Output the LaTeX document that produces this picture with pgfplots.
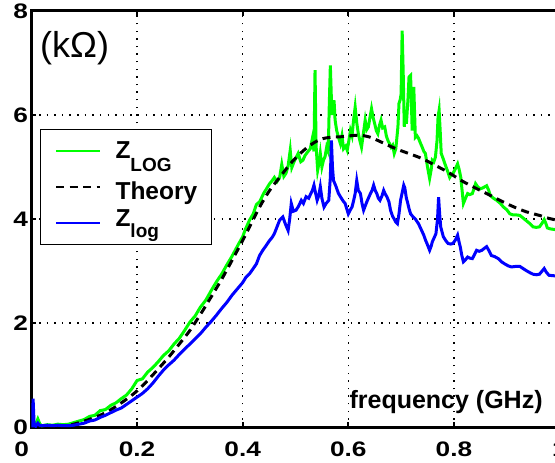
\documentclass[border=0pt]{standalone}
\usepackage{fontspec}
\setmainfont{Liberation Sans}
\newfontfamily\tickfont{Liberation Sans}[FakeStretch=1.25]
\usepackage{pgfplots}
\pgfplotsset{compat=1.18}
\definecolor{zgreen}{RGB}{0,255,0}
\definecolor{zblue}{RGB}{0,0,255}

\pgfplotstableread{
x y
0.004 0.02
0.008 0.06
0.012 0.16
0.016 0.06
0.02 0.03
0.03 0.05
0.04 0.04
0.05 0.06
0.06 0.05
0.07 0.06
0.08 0.09
0.09 0.12
0.10 0.15
0.11 0.21
0.12 0.23
0.13 0.32
0.14 0.34
0.15 0.42
0.16 0.47
0.17 0.55
0.18 0.62
0.19 0.74
0.20 0.90
0.21 0.93
0.22 1.06
0.23 1.15
0.24 1.26
0.25 1.38
0.26 1.47
0.27 1.60
0.28 1.71
0.29 1.86
0.30 2.02
0.31 2.14
0.32 2.31
0.33 2.44
0.34 2.62
0.35 2.79
0.36 2.94
0.37 3.12
0.38 3.29
0.39 3.48
0.40 3.66
0.405 3.80
0.413 3.98
0.42 4.10
0.426 4.28
0.432 4.33
0.44 4.50
0.445 4.58
0.451 4.68
0.456 4.74
0.46 4.80
0.465 4.72
0.47 4.80
0.474 5.05
0.478 4.82
0.482 4.88
0.486 5.02
0.490 5.32
0.493 4.99
0.498 5.12
0.505 5.26
0.510 5.10
0.514 5.13
0.518 5.22
0.523 5.29
0.528 5.35
0.532 5.55
0.535 5.30
0.537 6.86
0.539 5.40
0.542 4.94
0.545 5.10
0.547 5.26
0.550 5.00
0.553 5.13
0.556 5.20
0.559 5.38
0.562 5.30
0.564 6.20
0.566 6.95
0.568 6.30
0.570 6.00
0.573 6.28
0.575 5.90
0.578 5.70
0.582 5.55
0.585 5.45
0.588 5.60
0.591 5.35
0.595 5.40
0.598 5.32
0.601 5.50
0.604 5.70
0.607 5.60
0.610 5.90
0.613 6.15
0.616 5.85
0.619 5.64
0.622 5.50
0.625 5.38
0.628 5.60
0.632 5.90
0.635 5.72
0.638 5.77
0.641 5.95
0.644 6.12
0.647 5.95
0.650 5.83
0.653 5.70
0.656 5.64
0.659 5.80
0.662 5.90
0.665 5.75
0.669 5.77
0.672 5.60
0.675 5.51
0.678 5.45
0.681 5.38
0.684 5.42
0.687 5.26
0.690 5.35
0.694 5.77
0.696 6.22
0.698 6.28
0.700 6.40
0.702 7.62
0.704 6.80
0.706 5.77
0.708 6.10
0.710 5.83
0.713 6.30
0.715 6.73
0.718 6.76
0.721 5.70
0.724 6.54
0.727 5.57
0.730 5.60
0.733 5.55
0.737 5.45
0.740 5.38
0.743 5.30
0.746 5.26
0.750 5.00
0.754 4.78
0.757 4.95
0.759 5.13
0.762 5.10
0.765 5.19
0.768 5.50
0.770 5.96
0.772 6.09
0.774 5.70
0.776 5.26
0.780 5.15
0.783 5.06
0.787 4.95
0.792 4.80
0.795 4.85
0.798 4.87
0.802 4.95
0.807 5.06
0.810 4.95
0.813 4.80
0.816 4.50
0.818 4.30
0.822 4.40
0.826 4.49
0.830 4.47
0.835 4.49
0.838 4.58
0.841 4.68
0.845 4.62
0.850 4.58
0.855 4.60
0.862 4.64
0.866 4.55
0.869 4.45
0.875 4.40
0.881 4.36
0.888 4.30
0.894 4.23
0.900 4.18
0.906 4.10
0.912 4.08
0.918 4.08
0.925 4.07
0.931 4.02
0.937 3.97
0.943 3.92
0.950 3.85
0.956 3.84
0.962 3.85
0.967 3.92
0.971 3.99
0.974 3.92
0.977 3.83
0.983 3.81
0.990 3.80
1.0 3.78
}\zLOG

\pgfplotstableread{
x y
0.002 0.0
0.003 0.55
0.005 0.05
0.008 0.02
0.012 0.08
0.016 0.03
0.02 0.03
0.03 0.04
0.04 0.03
0.05 0.04
0.06 0.03
0.07 0.03
0.08 0.04
0.09 0.06
0.10 0.08
0.11 0.12
0.12 0.14
0.13 0.19
0.14 0.23
0.15 0.28
0.16 0.33
0.17 0.37
0.18 0.44
0.19 0.51
0.20 0.58
0.21 0.65
0.22 0.74
0.23 0.85
0.24 0.98
0.25 1.10
0.26 1.20
0.27 1.29
0.28 1.40
0.29 1.50
0.30 1.60
0.31 1.70
0.32 1.80
0.33 1.92
0.34 2.03
0.35 2.15
0.36 2.28
0.37 2.40
0.38 2.54
0.39 2.66
0.40 2.78
0.406 2.88
0.413 2.95
0.42 3.05
0.426 3.14
0.432 3.30
0.438 3.40
0.445 3.50
0.451 3.59
0.456 3.65
0.46 3.72
0.465 3.85
0.47 3.98
0.476 4.04
0.481 3.90
0.486 3.78
0.489 4.00
0.492 4.30
0.496 4.15
0.501 4.17
0.506 4.25
0.511 4.36
0.515 4.30
0.520 4.43
0.525 4.40
0.529 4.49
0.532 4.55
0.535 4.65
0.538 4.50
0.541 4.36
0.544 4.45
0.547 4.62
0.550 4.40
0.554 4.23
0.558 4.30
0.563 4.36
0.566 4.80
0.568 5.51
0.570 5.00
0.572 4.74
0.577 4.62
0.581 4.50
0.585 4.43
0.590 4.35
0.594 4.30
0.600 4.10
0.604 4.18
0.607 4.23
0.610 4.35
0.613 4.49
0.616 4.74
0.619 4.55
0.623 4.49
0.626 4.30
0.629 4.17
0.632 4.25
0.635 4.33
0.638 4.40
0.642 4.49
0.645 4.55
0.648 4.65
0.651 4.55
0.654 4.49
0.657 4.40
0.660 4.36
0.664 4.45
0.667 4.55
0.670 4.48
0.673 4.43
0.677 4.33
0.680 4.17
0.684 4.05
0.687 4.00
0.690 3.94
0.693 3.91
0.696 4.10
0.699 4.36
0.703 4.55
0.705 4.65
0.707 4.60
0.710 4.40
0.712 4.33
0.715 4.20
0.718 4.10
0.722 4.05
0.727 4.00
0.733 3.91
0.738 3.80
0.743 3.69
0.746 3.60
0.749 3.53
0.754 3.40
0.757 3.48
0.759 3.56
0.763 3.65
0.766 3.72
0.769 4.00
0.771 4.42
0.773 4.10
0.775 3.85
0.780 3.66
0.785 3.58
0.789 3.53
0.794 3.52
0.798 3.53
0.803 3.60
0.807 3.69
0.810 3.55
0.812 3.47
0.815 3.30
0.818 3.18
0.822 3.22
0.826 3.27
0.830 3.25
0.835 3.24
0.839 3.32
0.843 3.40
0.848 3.38
0.853 3.40
0.858 3.44
0.862 3.47
0.866 3.40
0.871 3.30
0.877 3.28
0.884 3.24
0.890 3.18
0.896 3.14
0.903 3.10
0.909 3.08
0.917 3.09
0.925 3.09
0.931 3.05
0.937 3.01
0.944 2.97
0.950 2.94
0.956 2.93
0.962 2.94
0.967 3.00
0.971 3.05
0.975 2.98
0.980 2.92
0.990 2.91
1.0 2.90
}\zlog

\pgfplotstableread{
x y
0.05 0.01
0.06 0.02
0.08 0.06
0.10 0.12
0.12 0.19
0.14 0.28
0.16 0.40
0.18 0.54
0.20 0.70
0.22 0.90
0.24 1.12
0.26 1.35
0.28 1.60
0.30 1.86
0.32 2.17
0.34 2.50
0.36 2.84
0.38 3.21
0.40 3.59
0.413 3.85
0.432 4.23
0.451 4.55
0.47 4.80
0.49 5.06
0.509 5.26
0.528 5.42
0.547 5.53
0.566 5.57
0.585 5.58
0.604 5.60
0.623 5.61
0.642 5.57
0.660 5.49
0.679 5.40
0.698 5.32
0.717 5.25
0.740 5.16
0.765 5.03
0.789 4.90
0.814 4.74
0.838 4.61
0.862 4.49
0.887 4.36
0.912 4.24
0.937 4.14
0.962 4.07
0.981 4.01
1.0 3.97
}\theory

\begin{document}
\begin{tikzpicture}
\useasboundingbox (-31.5pt,-35.7pt) rectangle (523.5pt,427.3pt);
\begin{axis}[
  scale only axis, width=528pt, height=416.5pt,
  at={(0pt,0pt)}, anchor=south west,
  xmin=0, xmax=1, ymin=0, ymax=8,
  xtick={0,0.2,0.4,0.6,0.8,1},
  xticklabels={{0\hspace*{19.6pt}},0.2,0.4,0.6,0.8,1},
  ytick={0,2,4,6,8}, yticklabels={0,2,4,6,8},
  tick align=inside, major tick length=5pt,
  major tick style={black, line width=2pt},
  axis line style={black, line width=3pt},
  xmajorgrids=true, ymajorgrids=true,
  major grid style={black, line width=1.5pt, dash pattern=on 1.5pt off 6.1pt},
  ticklabel style={font=\tickfont\bfseries\fontsize{21}{21}\selectfont},
  xticklabel style={yshift=-11pt},
  /pgf/number format/assume math mode=true,
  legend cell align=left,
  legend style={at={(0.0155,0.716)}, anchor=north west, draw=black,
    line width=0.9pt, fill=white, inner xsep=14.6pt, inner ysep=3.3pt,
    font=\bfseries\fontsize{24.5}{24.5}\selectfont,
    row sep=0pt, column sep=0pt,
    nodes={inner xsep=0pt, inner ysep=0pt, text height=26pt, text depth=10pt}},
  legend image code/.code={\draw[#1, line width=2.6pt] (0pt,0pt) -- (44pt,0pt); \path (58pt,0pt);},
]
\addplot[zgreen, line width=3pt] table[x=x,y=y] {\zLOG};
\addlegendentry{Z\raisebox{-12.5pt}{\fontsize{19}{19}\selectfont LOG}}
\addplot[black, line width=3pt, dash pattern=on 8pt off 5.5pt, smooth] table[x=x,y=y] {\theory};
\addlegendentry{\raisebox{-4.7pt}{Theory}}
\addplot[zblue, line width=3pt] table[x=x,y=y] {\zlog};
\addlegendentry{\raisebox{4.3pt}{Z\raisebox{-11pt}{\fontsize{19}{19}\selectfont log}}}
\node[anchor=base west, inner sep=0pt, font=\fontsize{36}{36}\selectfont] at (axis cs:0.016,7.107) {(kΩ)};
\node[anchor=base west, inner sep=0pt, font=\bfseries\fontsize{25}{25}\selectfont] at (axis cs:0.602,0.365) {frequency (GHz)};
\end{axis}
\end{tikzpicture}
\end{document}
